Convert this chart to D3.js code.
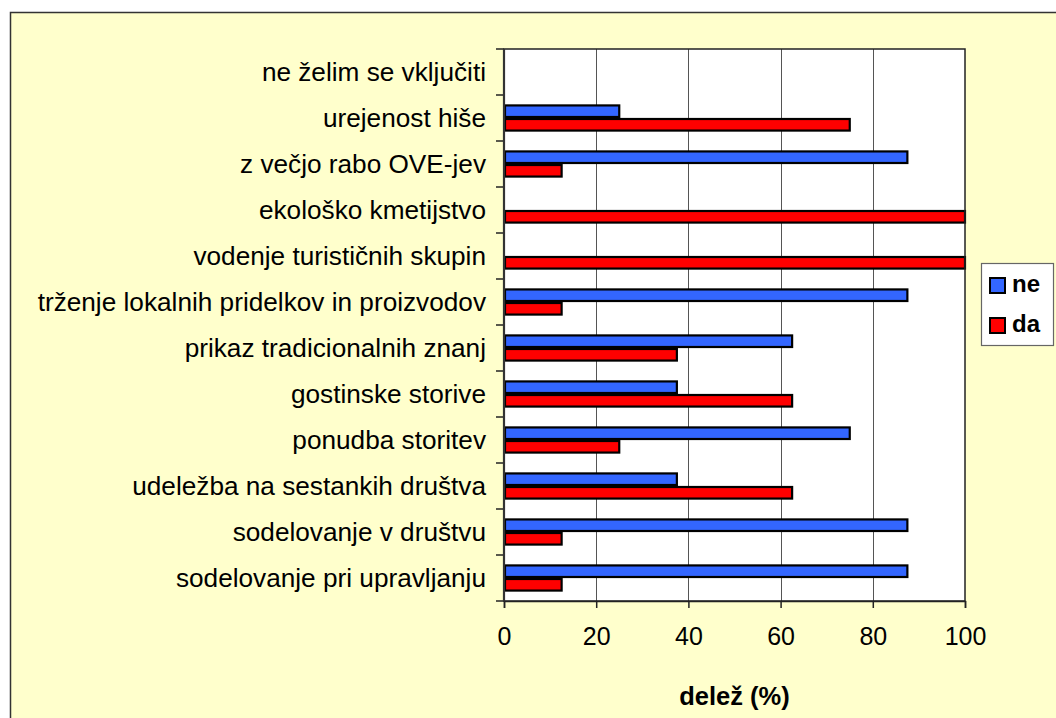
<!DOCTYPE html>
<html>
<head>
<meta charset="utf-8">
<script src="https://cdn.jsdelivr.net/npm/d3@7"></script>
<style>
  html, body { margin: 0; padding: 0; background: #ffffff; overflow: hidden; }
  svg { display: block; font-family: "Liberation Sans", Arial, sans-serif; }
</style>
</head>
<body>
<svg id="chart" width="1056" height="718"></svg>
<script>
// Activities, top to bottom
const categories = [
  "ne želim se vključiti",
  "urejenost hiše",
  "z večjo rabo OVE-jev",
  "ekološko kmetijstvo",
  "vodenje turističnih skupin",
  "trženje lokalnih pridelkov in proizvodov",
  "prikaz tradicionalnih znanj",
  "gostinske storive",
  "ponudba storitev",
  "udeležba na sestankih društva",
  "sodelovanje v društvu",
  "sodelovanje pri upravljanju"
];
const seriesNames = ["ne", "da"];
const neValues = [0, 25, 87.5, 0, 0, 87.5, 62.5, 37.5, 75, 37.5, 87.5, 87.5];
const daValues = [0, 75, 12.5, 100, 100, 12.5, 37.5, 62.5, 25, 62.5, 12.5, 12.5];
const xTicks = [0, 20, 40, 60, 80, 100];
const axisTitle = "delež (%)";

const colors = { ne: "#3366FF", da: "#FF0000" };

const svg = d3.select("#chart");

// Chart area
svg.append("rect")
  .attr("x", 10.5).attr("y", 12.5)
  .attr("width", 1100).attr("height", 800)
  .attr("fill", "#FFFFCC")
  .attr("stroke", "#333333").attr("stroke-width", 1.5);

const plot = { left: 504, right: 965, top: 49, bottom: 601 };

const x = d3.scaleLinear().domain([0, 100]).range([plot.left, plot.right]);
const y = d3.scaleBand().domain(categories).range([plot.top, plot.bottom])
  .paddingInner(0.41).paddingOuter(0.205);
const ySub = d3.scaleBand().domain(seriesNames).range([0, y.bandwidth()]).padding(0);

// Plot area background
svg.append("rect")
  .attr("x", plot.left).attr("y", plot.top)
  .attr("width", plot.right - plot.left).attr("height", plot.bottom - plot.top)
  .attr("fill", "#ffffff");

// Vertical gridlines
svg.append("g")
  .selectAll("line")
  .data(xTicks.filter(t => t > 0 && t < 100))
  .join("line")
  .attr("x1", d => Math.round(x(d)) + 0.5).attr("x2", d => Math.round(x(d)) + 0.5)
  .attr("y1", plot.top).attr("y2", plot.bottom)
  .attr("stroke", "#555555").attr("stroke-width", 1);

// Bars
const rows = categories.map((c, i) => ({ cat: c, ne: neValues[i], da: daValues[i] }));
const groups = svg.append("g").selectAll("g")
  .data(rows)
  .join("g")
  .attr("transform", d => `translate(0,${y(d.cat)})`);

groups.selectAll("rect")
  .data(d => seriesNames.map(s => ({ s, v: d[s] })).filter(e => e.v > 0))
  .join("rect")
  .attr("x", x(0) + 1)
  .attr("y", d => ySub(d.s) + 1)
  .attr("width", d => x(d.v) - x(0) - 1)
  .attr("height", ySub.bandwidth() - 2)
  .attr("fill", d => colors[d.s])
  .attr("stroke", "#000000").attr("stroke-width", 2.2);

// Plot area border
svg.append("rect")
  .attr("x", plot.left).attr("y", plot.top)
  .attr("width", plot.right - plot.left).attr("height", plot.bottom - plot.top)
  .attr("fill", "none")
  .attr("stroke", "#222222").attr("stroke-width", 1.5);

// Y axis (category ticks between bands)
const yAxis = svg.append("g").attr("transform", `translate(${plot.left},0)`);
const boundaries = d3.range(categories.length + 1).map(i => plot.top + i * (plot.bottom - plot.top) / categories.length);
yAxis.selectAll("line.tick")
  .data(boundaries)
  .join("line")
  .attr("class", "tick")
  .attr("x1", -8).attr("x2", 0)
  .attr("y1", d => d).attr("y2", d => d)
  .attr("stroke", "#222222").attr("stroke-width", 1.5);
yAxis.append("line")
  .attr("x1", 0).attr("x2", 0).attr("y1", plot.top).attr("y2", plot.bottom)
  .attr("stroke", "#333333").attr("stroke-width", 2.2);
yAxis.selectAll("text")
  .data(categories)
  .join("text")
  .attr("x", -18)
  .attr("y", d => y(d) + y.bandwidth() / 2)
  .attr("dy", "0.35em")
  .attr("text-anchor", "end")
  .attr("font-size", 26.2)
  .attr("fill", "#000000")
  .text(d => d);

// X axis
const xAxis = d3.axisBottom(x).tickValues(xTicks).tickSize(7).tickPadding(19)
  .tickFormat(d3.format("d"));
const gx = svg.append("g").attr("transform", `translate(0,${plot.bottom})`).call(xAxis);
gx.select(".domain").attr("stroke", "#222222").attr("stroke-width", 1.5);
gx.selectAll(".tick line").attr("stroke", "#222222").attr("stroke-width", 1.5);
gx.selectAll(".tick text")
  .attr("font-size", 25)
  .attr("font-family", "Liberation Sans, Arial, sans-serif")
  .attr("fill", "#000000");

// Axis title
svg.append("text")
  .attr("x", (plot.left + plot.right) / 2)
  .attr("y", 705)
  .attr("text-anchor", "middle")
  .attr("font-size", 25.5)
  .attr("font-weight", "bold")
  .attr("fill", "#000000")
  .text(axisTitle);

// Legend
const legend = svg.append("g").attr("transform", "translate(981,263)");
legend.append("rect")
  .attr("x", 0.5).attr("y", 0.5).attr("width", 72).attr("height", 82)
  .attr("fill", "#ffffff").attr("stroke", "#666666").attr("stroke-width", 1.2);
const items = legend.selectAll("g.item")
  .data(seriesNames)
  .join("g")
  .attr("class", "item")
  .attr("transform", (d, i) => `translate(9,${15 + i * 40})`);
items.append("rect")
  .attr("x", 0).attr("y", 0).attr("width", 15).attr("height", 15)
  .attr("fill", d => colors[d])
  .attr("stroke", "#000000").attr("stroke-width", 2);
items.append("text")
  .attr("x", 22).attr("y", 14)
  .attr("font-size", 24)
  .attr("font-weight", "bold")
  .attr("fill", "#000000")
  .text(d => d);
</script>
</body>
</html>
